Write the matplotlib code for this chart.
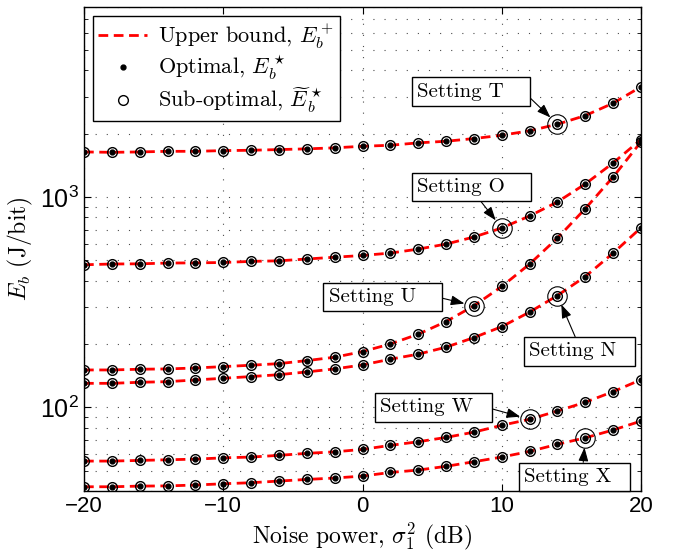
import matplotlib
matplotlib.use("Agg")
import matplotlib.pyplot as plt
from matplotlib.ticker import FixedLocator, FixedFormatter, LogLocator, NullFormatter

plt.rcParams.update({
    'font.family': 'Liberation Sans',
    'font.size': 15,
    'mathtext.fontset': 'cm',
    'mathtext.rm': 'Liberation Sans',
    'mathtext.it': 'Liberation Sans:italic',
})

noise_db = list(range(-20, 21, 2))

# E_b values (J/bit) for each setting
setting_t = [1637, 1630, 1637, 1648, 1648, 1661, 1667, 1680, 1693, 1712, 1742,
             1761, 1808, 1840, 1895, 1965, 2063, 2217, 2438, 2791, 3341]
setting_o = [476, 480, 481, 485, 486, 488, 494, 497, 507, 517, 527,
             541, 565, 597, 645, 712, 812, 947, 1153, 1452, 1875]
setting_u = [150.5, 150.5, 151.7, 152.2, 153.8, 156.1, 158.5, 161.3, 166.7, 173, 184,
             200, 222.6, 255.6, 303.7, 375.3, 479.7, 637.8, 880, 1245, 1828]
setting_n = [130, 130, 131.5, 132.4, 134.9, 137.4, 140, 142.9, 147.3, 152.2, 159,
             169.3, 178.9, 193.1, 214.5, 241.8, 283.5, 340, 418.5, 541, 714]
setting_w = [55.5, 55.5, 55.9, 56.3, 56.7, 57.5, 58, 59.1, 60.4, 61.4, 63.1,
             65.9, 68.6, 71.9, 76.2, 82.1, 87.7, 96, 105.7, 118.7, 135.3]
setting_x = [41.9, 41.9, 42.2, 42.3, 42.7, 43.3, 43.8, 44.6, 45.4, 46.1, 47.1,
             49.0, 50.3, 52.4, 55.1, 58, 61.7, 66.7, 71.6, 78, 86]

all_settings = [setting_t, setting_o, setting_u, setting_n, setting_w, setting_x]

# labels: (name, highlighted dB, text start position, arrow anchor on box)
labels = ["Setting T", "Setting O", "Setting U", "Setting N", "Setting W", "Setting X"]
label_db = [14, 10, 8, 14, 12, 16]
label_pos = [(3.91, 3172), (3.91, 1113), (-2.43, 335), (11.96, 184.4), (1.26, 99.8), (11.6, 46.6)]
label_relpos = [(1.0, 0.44), (0.55, 0.0), (1.0, 0.5), (0.48, 1.0), (1.0, 0.5), (0.58, 1.0)]

fig = plt.figure(figsize=(6.77, 5.52), dpi=100)
ax = fig.add_axes([84 / 677, 1 - 491 / 552, (641 - 84) / 677, (491 - 7) / 552])

for i, s in enumerate(all_settings):
    ax.plot(noise_db, s, color='red', ls='--', lw=2, dashes=(3.5, 2),
            label='Upper bound, $E_b^+$' if i == 0 else None, zorder=2)
for i, s in enumerate(all_settings):
    ax.plot(noise_db, s, ls='none', marker='.', ms=7, color='black',
            label='Optimal, $E_b^\\star$' if i == 0 else None, zorder=3)
for i, s in enumerate(all_settings):
    ax.plot(noise_db, s, ls='none', marker='o', ms=7, mfc='none', mec='black', mew=1,
            label='Sub-optimal, $\\widetilde{E}_b^\\star$' if i == 0 else None, zorder=3)

for s, name, db, pos, rp in zip(all_settings, labels, label_db, label_pos, label_relpos):
    yv = s[noise_db.index(db)]
    ax.plot([db], [yv], ls='none', marker='o', ms=14, mfc='none', mec='black', mew=0.8, zorder=3)
    txt = name + ('  ' if name[-1] in 'WXN' else '   ')
    ax.annotate(txt, xy=(db, yv), xytext=pos, ha='left', va='center',
                family='cmr10', fontsize=15,
                bbox=dict(boxstyle='square,pad=0.25', fc='white', ec='black', lw=1),
                arrowprops=dict(arrowstyle='-|>,head_length=0.55,head_width=0.2',
                                color='black', lw=0.8, relpos=rp,
                                shrinkA=0, shrinkB=7),
                zorder=5)

ax.set_yscale('log')
ax.set_xlim(-20, 20)
ax.set_ylim(40, 8000)
ax.set_xticks([-20, -10, 0, 10, 20])
ax.yaxis.set_major_locator(FixedLocator([100, 1000]))
ax.yaxis.set_major_formatter(FixedFormatter(['$10^2$', '$10^3$']))
ax.yaxis.set_minor_locator(LogLocator(base=10, subs=range(2, 10)))
ax.yaxis.set_minor_formatter(NullFormatter())
for t in ax.get_yticklabels():
    t.set_math_fontfamily('custom')

ax.tick_params(which='both', direction='in', top=True, right=True)
ax.tick_params(axis='x', labelsize=16)
ax.tick_params(axis='y', labelsize=18)
ax.tick_params(which='major', length=5, width=0.8)
ax.tick_params(which='minor', length=3, width=0.6)
grid_style = dict(ls=(0, (1, 9)), color='0.3', lw=0.8)
ax.grid(True, which='major', **grid_style)
ax.grid(True, which='minor', axis='y', **grid_style)
for sp in ax.spines.values():
    sp.set_linewidth(1)

ax.set_xlabel('Noise power, $\\sigma_1^2$ (dB)', family='cmr10', fontsize=17, labelpad=3)
ax.set_ylabel('$E_b$ (J/bit)', family='cmr10', fontsize=17)
ax.yaxis.set_label_coords(-0.088, 0.5)

leg = ax.legend(loc='upper left', prop={'family': 'cmr10', 'size': 16},
                fancybox=False, edgecolor='black', framealpha=1,
                borderaxespad=0.4, handlelength=2.2, handletextpad=0.5,
                labelspacing=0.15, borderpad=0.25)
leg.get_frame().set_linewidth(1)

fig.savefig('out.png', dpi=100)
